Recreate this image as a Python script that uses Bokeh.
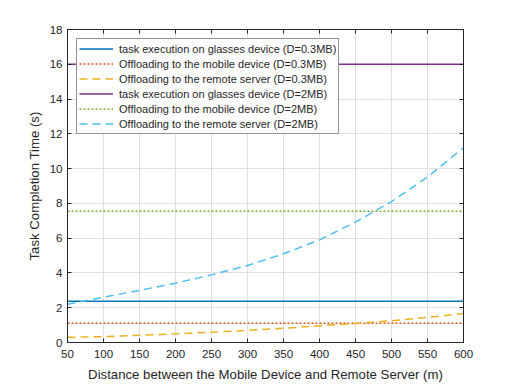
from bokeh.plotting import figure
from bokeh.models import LinearAxis, Range1d, Legend, LegendItem, FixedTicker
from bokeh.embed import file_html
from bokeh.resources import INLINE

distance = [50, 100, 150, 200, 250, 300, 350, 400, 450, 500, 550, 600]
glasses_03 = [2.37] * 12
mobile_03 = [1.1] * 12
remote_03 = [0.3, 0.34, 0.42, 0.5, 0.59, 0.7, 0.82, 0.96, 1.09, 1.25, 1.44, 1.67]
glasses_2 = [16.0] * 12
mobile_2 = [7.55] * 12
remote_2 = [2.2, 2.6, 3.0, 3.41, 3.89, 4.43, 5.1, 5.9, 6.92, 8.1, 9.52, 11.2]

labels = [
    "task execution on glasses device (D=0.3MB)",
    "Offloading to the mobile device (D=0.3MB)",
    "Offloading to the remote server (D=0.3MB)",
    "task execution on glasses device (D=2MB)",
    "Offloading to the mobile device (D=2MB)",
    "Offloading to the remote server (D=2MB)",
]
x_ticks = [50, 100, 150, 200, 250, 300, 350, 400, 450, 500, 550, 600]
y_ticks = [0, 2, 4, 6, 8, 10, 12, 14, 16, 18]

FONT = "Liberation Sans"
AX = "#262626"

p = figure(width=512, height=384, output_backend="svg", toolbar_location=None,
           x_range=Range1d(50, 600), y_range=Range1d(0, 18),
           min_border_left=67, min_border_right=49, min_border_top=29, min_border_bottom=42)
p.outline_line_color = AX
p.outline_line_width = 1

series = [
    (glasses_03, "#0072BD", "solid"),
    (mobile_03, "#D95319", "2 2"),
    (remote_03, "#EDB120", "8 5"),
    (glasses_2, "#7E2F8E", "solid"),
    (mobile_2, "#77AC30", "2 2"),
    (remote_2, "#4DBEEE", "8 5"),
]
items = []
for (ys, c, d), lab in zip(series, labels):
    r = p.line(distance, ys, line_color=c, line_width=1.5, line_dash=d)
    items.append(LegendItem(label=lab, renderers=[r]))

for ax in (p.xaxis[0], p.yaxis[0]):
    ax.major_tick_in = 4
    ax.major_tick_out = 0
    ax.minor_tick_in = 0
    ax.minor_tick_out = 0
    ax.axis_line_color = AX
    ax.major_tick_line_color = AX
    ax.major_label_text_font = FONT
    ax.major_label_text_font_size = "11.5px"
    ax.major_label_text_color = AX
    ax.axis_label_text_font = FONT
    ax.axis_label_text_font_size = "13.2px"
    ax.axis_label_text_font_style = "normal"
    ax.axis_label_text_color = AX

p.xaxis.ticker = FixedTicker(ticks=x_ticks)
p.yaxis.ticker = FixedTicker(ticks=y_ticks)
p.xaxis.axis_label = "Distance between the Mobile Device and Remote Server (m)"
p.yaxis.axis_label = "Task Completion Time (s)"
p.xaxis.major_label_standoff = 7
p.xaxis.axis_label_standoff = 6
p.yaxis.major_label_standoff = 5
p.yaxis.axis_label_standoff = 5

for loc, tks in (("right", y_ticks), ("above", x_ticks)):
    a = LinearAxis(ticker=FixedTicker(ticks=tks))
    a.major_tick_in = 4
    a.major_tick_out = 0
    a.minor_tick_in = 0
    a.minor_tick_out = 0
    a.axis_line_color = AX
    a.major_tick_line_color = AX
    a.major_label_overrides = {t: "" for t in tks}
    a.major_label_standoff = 0
    p.add_layout(a, loc)

p.xgrid.ticker = FixedTicker(ticks=x_ticks)
p.ygrid.ticker = FixedTicker(ticks=y_ticks)
p.grid.grid_line_color = "#dfdfdf"
p.grid.grid_line_width = 1

legend = Legend(items=items, location="top_left")
legend.label_text_font = FONT
legend.label_text_font_size = "11px"
legend.label_text_color = AX
legend.label_height = 15
legend.glyph_height = 15
legend.glyph_width = 34
legend.spacing = 0
legend.padding = 2
legend.margin = 9
legend.label_standoff = 6
legend.border_line_color = AX
legend.border_line_width = 1
legend.background_fill_alpha = 1
p.add_layout(legend, "center")

open("out.html", "w").write(file_html(p, INLINE))
